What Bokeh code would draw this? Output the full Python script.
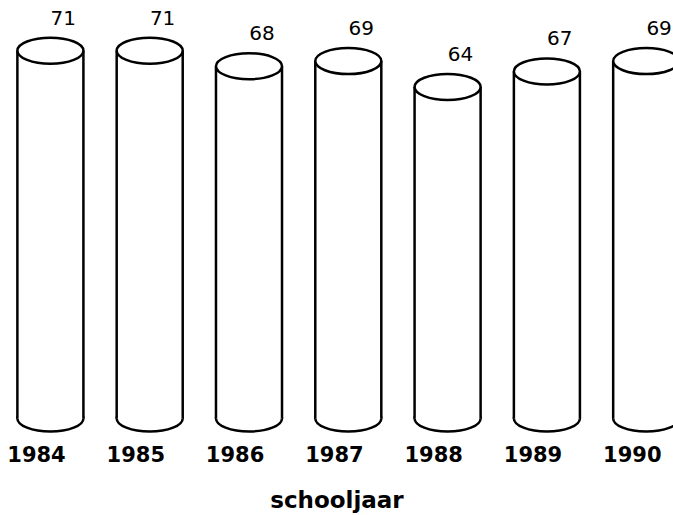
from bokeh.plotting import figure
from bokeh.models import ColumnDataSource, FixedTicker, Range1d
from bokeh.transform import dodge
from bokeh.embed import file_html
from bokeh.resources import INLINE
from bokeh.core.properties import value

# ---- data ----
years = [1984, 1985, 1986, 1987, 1988, 1989, 1990]
percentages = [71, 71, 68, 69, 64, 67, 69]
x_title = "schooljaar"

# ---- style constants ----
SHIFT = 0.14      # cylinders sit slightly right of the year labels
CYL_W = 0.665     # cylinder width in data units
ELL_H = 26        # ellipse height in screen px
LW = 2.5

src = ColumnDataSource(dict(
    year=years,
    val=percentages,
    zero=[0] * len(years),
    lbl=[str(v) for v in percentages],
))

p = figure(width=673, height=515, output_backend="svg", toolbar_location=None,
           x_range=Range1d(1983.6375, 1990.415), y_range=Range1d(-3.475, 80.69),
           min_border=0, y_axis_location=None)

xc = dodge('year', SHIFT, range=p.x_range)
xl = dodge('year', SHIFT - CYL_W / 2, range=p.x_range)
xr = dodge('year', SHIFT + CYL_W / 2, range=p.x_range)

# bottom ellipse (upper half gets covered by body)
p.ellipse(x=xc, y='zero', width=CYL_W, height=ELL_H, height_units="screen",
          fill_color="white", line_color="black", line_width=LW, source=src)
# body
p.vbar(x=xc, top='val', bottom=0, width=CYL_W, fill_color="white",
       line_color=None, source=src)
# sides
p.segment(x0=xl, y0='zero', x1=xl, y1='val', line_color="black", line_width=LW, source=src)
p.segment(x0=xr, y0='zero', x1=xr, y1='val', line_color="black", line_width=LW, source=src)
# top ellipse
p.ellipse(x=xc, y='val', width=CYL_W, height=ELL_H, height_units="screen",
          fill_color="white", line_color="black", line_width=LW, source=src)
# value labels
p.text(x=dodge('year', SHIFT + 0.13, range=p.x_range), y='val', text='lbl',
       y_offset=-33, text_align="center", text_baseline="middle",
       text_font=value("DejaVu Sans"), text_font_size="20px",
       text_color="black", source=src)

ax = p.xaxis[0]
ax.ticker = FixedTicker(ticks=years)
ax.axis_line_color = None
ax.major_tick_line_color = None
ax.minor_tick_line_color = None
ax.major_tick_out = 0
ax.major_tick_in = 0
ax.major_label_standoff = 9
ax.major_label_text_font = "DejaVu Sans"
ax.major_label_text_font_style = "bold"
ax.major_label_text_font_size = "21px"
ax.major_label_text_color = "black"
ax.axis_label = x_title
ax.axis_label_text_font = "DejaVu Sans"
ax.axis_label_text_font_style = "bold"
ax.axis_label_text_font_size = "23px"
ax.axis_label_text_color = "black"
ax.axis_label_standoff = 22

p.xgrid.visible = False
p.ygrid.visible = False
p.outline_line_color = None
p.background_fill_color = "white"
p.border_fill_color = "white"

open("out.html", "w").write(file_html(p, INLINE))
